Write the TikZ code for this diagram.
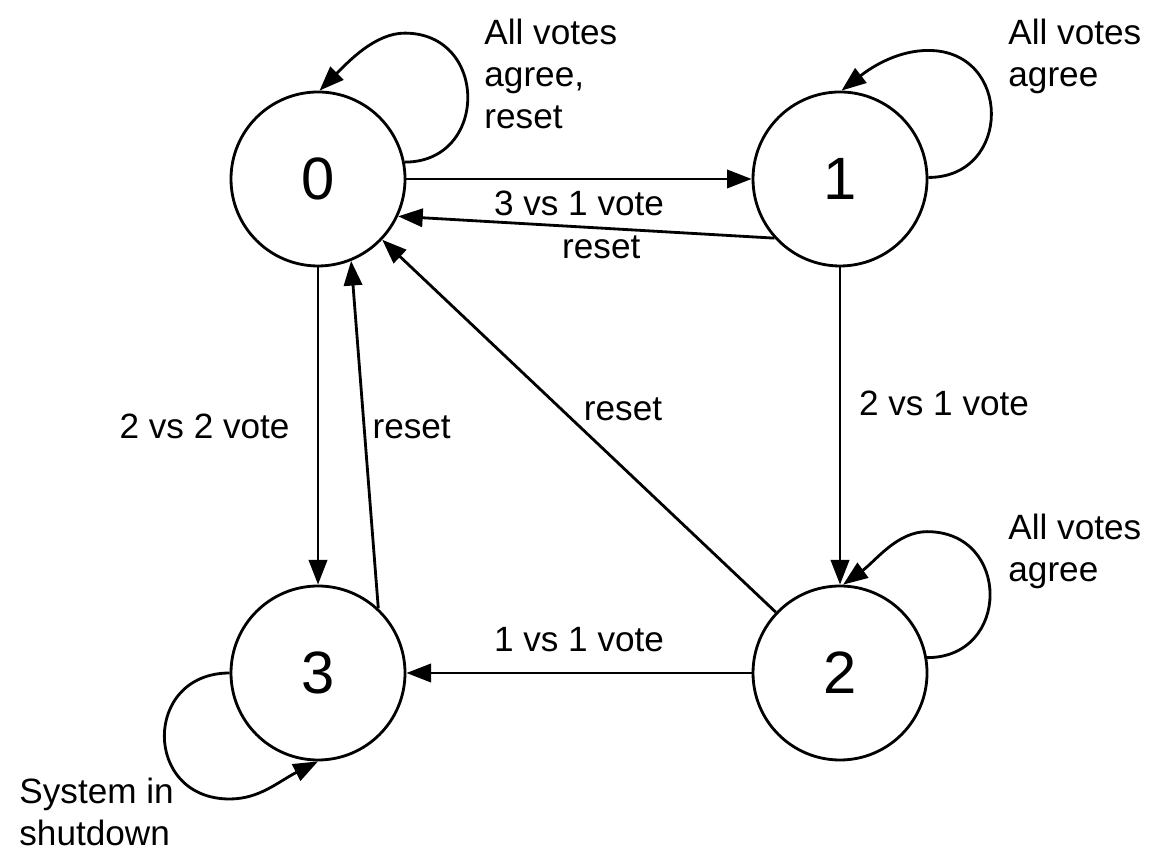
\documentclass[tikz,border=0pt]{standalone}
\usepackage{fontspec}
\setmainfont{Liberation Sans}
\usetikzlibrary{arrows.meta}
\begin{document}
\begin{tikzpicture}[>={Triangle[length=7pt,width=5.2pt]}, line width=0.8pt,
    state/.style={circle, draw, minimum size=1.74cm, inner sep=0pt, font=\fontsize{17}{20}\selectfont},
    lbl/.style={inner sep=1pt, font=\fontsize{10}{12}\selectfont},
    note/.style={lbl, align=left, anchor=north west, font=\fontsize{10}{11.95}\selectfont}]
      \useasboundingbox (0,0) rectangle (11.56,8.64);
      \node[state] (n0) at (3.18,6.85) {0};
      \node[state] (n1) at (8.40,6.85) {1};
      \node[state] (n2) at (8.40,1.91) {2};
      \node[state] (n3) at (3.18,1.91) {3};
      % transitions
      \draw [->] (n0) -- node [lbl,below=2pt,midway] (l01) {3 vs 1 vote} (n1);
      \draw [->] (n1.222) -- node [lbl,below=0.7pt,pos=0.46] (l10) {reset} (n0.335);
      \draw [->] (n1) -- node [lbl,right=4pt,pos=0.43] (l12) {2 vs 1 vote} (n2);
      \draw [->] (n2) -- node [lbl,above right,midway] (l20) {reset} (n0);
      \draw [->] (n0) -- node [lbl,left=6.7pt,midway] (l03) {2 vs 2 vote} (n3);
      \draw [->] (n3.47) -- node [lbl,right=1pt,pos=0.52] (l30) {reset} (n0.292);
      \draw [->] (n2) -- node [lbl,above=4.7pt,midway] (l23) {1 vs 1 vote} (n3);
      % self loops: half circle, then a short tail into the node
      \draw [->] (n0.11) .. controls +(0.84,0) and +(0.84,0) .. ++(0,1.29)
        .. controls +(-0.3,0) and +(45:0.4) .. (n0.89);
      \draw [->] (n1.1) .. controls +(0.84,0) and +(0.84,0) .. ++(0,1.27)
        .. controls +(-0.3,0) and +(38:0.4) .. (n1.89);
      \draw [->] (n2.10) .. controls +(0.84,0) and +(0.84,0) .. ++(0,1.26)
        .. controls +(-0.3,0) and +(36:0.4) .. (n2.88);
      \draw [->] (n3.180) .. controls +(-0.87,0) and +(-0.87,0) .. ++(0,-1.26)
        .. controls +(0.3,0) and +(207:0.45) .. (n3.270);
      \node[note] (c0) at (4.795,8.50) {All votes\\agree,\\reset};
      \node[note] (c1) at (10.035,8.50) {All votes\\agree};
      \node[note] (c2) at (10.035,3.55) {All votes\\agree};
      \node[note] (c3) at (0.145,0.91) {System in\\shutdown};
    \end{tikzpicture}
\end{document}
